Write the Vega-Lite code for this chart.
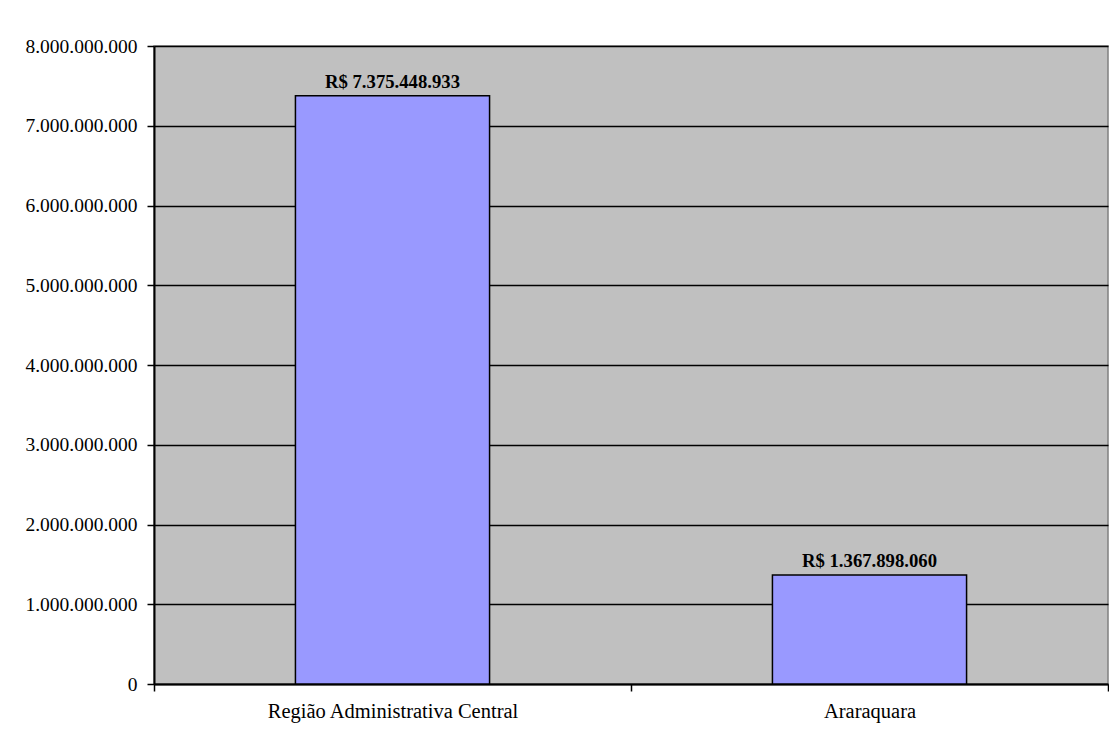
{
  "$schema": "https://vega.github.io/schema/vega-lite/v6.json",
  "autosize": {"type": "none"},
  "padding": {"left": 154, "top": 46, "right": 1, "bottom": 56},
  "width": 954,
  "height": 638,
  "background": "white",
  "config": {
    "locale": {"number": {"decimal": ",", "thousands": ".", "grouping": [3], "currency": ["R$ ", ""]}},
    "font": "Liberation Serif",
    "axis": {"labelFont": "Liberation Serif", "labelLimit": 0},
    "view": {"fill": "#C0C0C0", "stroke": "#808080", "strokeWidth": 1.5}
  },
  "data": {"values": [
    {"regiao": "Região Administrativa Central", "valor": 7375448933},
    {"regiao": "Araraquara", "valor": 1367898060}
  ]},
  "encoding": {
    "x": {"field": "regiao", "type": "nominal", "sort": null, "title": null,
      "scale": {"paddingInner": 0, "paddingOuter": 0},
      "axis": {"labelAngle": 0, "labelFont": "Liberation Serif", "labelFontSize": 20.5, "labelColor": "black", "labelLimit": 0,
        "tickBand": "extent", "tickColor": "black", "tickSize": 7, "tickWidth": 1.5,
        "domainColor": "black", "domainWidth": 2, "labelPadding": 10, "grid": false}},
    "y": {"field": "valor", "type": "quantitative", "title": null,
      "scale": {"domain": [0, 8000000000], "nice": false},
      "axis": {"values": [0, 1000000000, 2000000000, 3000000000, 4000000000, 5000000000, 6000000000, 7000000000, 8000000000],
        "format": ",d", "labelFont": "Liberation Serif", "labelFontSize": 19.5, "labelColor": "black", "labelLimit": 0,
        "tickColor": "black", "tickSize": 7, "tickWidth": 1.5, "labelPadding": 10,
        "domainColor": "black", "domainWidth": 2,
        "grid": true, "gridColor": "black", "gridWidth": 1.5, "gridOpacity": 1}}
  },
  "layer": [
    {"mark": {"type": "bar", "width": {"band": 0.407}, "fill": "#9999FF", "stroke": "black", "strokeWidth": 1.5}},
    {"mark": {"type": "text", "dy": -8, "baseline": "alphabetic", "font": "Liberation Serif", "fontSize": 18.7, "fontWeight": "bold", "color": "black"},
      "encoding": {"text": {"field": "valor", "type": "quantitative", "format": "$,d"}}}
  ]
}
